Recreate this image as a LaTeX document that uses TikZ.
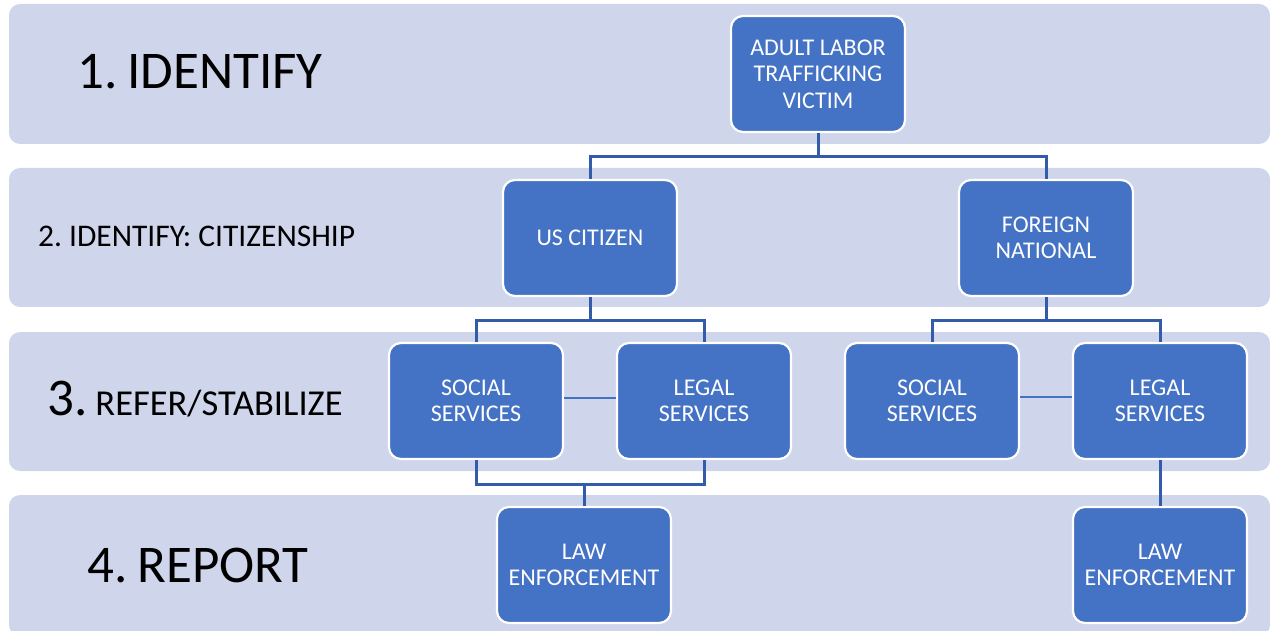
\documentclass[tikz,border=0pt]{standalone}
\usepackage{fontspec}
\setmainfont{Carlito}
\definecolor{band}{HTML}{CFD5EA}
\definecolor{boxfill}{HTML}{4472C4}
\definecolor{conn}{RGB}{50,92,170}
\tikzset{
  bandbox/.style={fill=band, draw=none, rounded corners=11pt},
  stepnode/.style={rectangle, rounded corners=12pt, fill=boxfill, draw=white, line width=2.2pt,
    minimum width=174pt, minimum height=116pt, text=white, align=center,
    font=\fontsize{24}{26.5}\selectfont, inner sep=2pt},
  conline/.style={draw=conn, line width=3pt},
  thinline/.style={draw=boxfill, line width=1.5pt},
  lbl/.style={anchor=base west, inner sep=0pt, text=black}
}
\begin{document}
\begin{tikzpicture}[x=1pt,y=-1pt]
\useasboundingbox (0,0) rectangle (1270,631);
% bands
\fill[bandbox] (9,4) rectangle (1270,144);
\fill[bandbox] (9,168) rectangle (1270,307);
\fill[bandbox] (9,332) rectangle (1270,471);
\fill[bandbox] (9,495) rectangle (1270,636);
% labels
\node[lbl, font=\fontsize{53}{60}\selectfont] (l1) at (77,89) {1.\hspace{10pt}IDENTIFY};
\node[lbl, font=\fontsize{31.5}{36}\selectfont] (l2) at (38,247) {2.\hspace{7pt}IDENTIFY: CITIZENSHIP};
\node[lbl] (l3) at (47,415) {{\fontsize{53}{60}\selectfont 3.}\hspace{8pt}{\fontsize{36.5}{40}\selectfont REFER/STABILIZE}};
\node[lbl, font=\fontsize{53}{60}\selectfont] (l4) at (87,582) {4.\hspace{10pt}REPORT};
% boxes
\node[stepnode] (adult) at (818,74) {ADULT LABOR\\TRAFFICKING\\VICTIM};
\node[stepnode] (us) at (590,238) {US CITIZEN};
\node[stepnode] (fn) at (1046,238) {FOREIGN\\NATIONAL};
\node[stepnode] (ssL) at (476,401) {SOCIAL\\SERVICES};
\node[stepnode] (lsL) at (704,401) {LEGAL\\SERVICES};
\node[stepnode] (ssR) at (932,401) {SOCIAL\\SERVICES};
\node[stepnode] (lsR) at (1160,401) {LEGAL\\SERVICES};
\node[stepnode] (lawL) at (584,565) {LAW\\ENFORCEMENT};
\node[stepnode] (lawR) at (1160,565) {LAW\\ENFORCEMENT};
% connectors
\draw[conline] (adult.south) -- ++(0,23.5) -| (us.north);
\draw[conline] (adult.south) -- ++(0,23.5) -| (fn.north);
\draw[conline] (us.south) -- ++(0,23) -| (ssL.north);
\draw[conline] (us.south) -- ++(0,23) -| (lsL.north);
\draw[conline] (fn.south) -- ++(0,23) -| (ssR.north);
\draw[conline] (fn.south) -- ++(0,23) -| (lsR.north);
\draw[conline] (ssL.south) -- ++(0,24) -| (lawL.north);
\draw[conline] (lsL.south) -- ++(0,24) -| (lawL.north);
\draw[conline] (lsR.south) -- (lawR.north);
\draw[thinline] ([yshift=3pt]ssL.east) -- ([yshift=3pt]lsL.west);
\draw[thinline] ([yshift=4pt]ssR.east) -- ([yshift=4pt]lsR.west);
\end{tikzpicture}
\end{document}
